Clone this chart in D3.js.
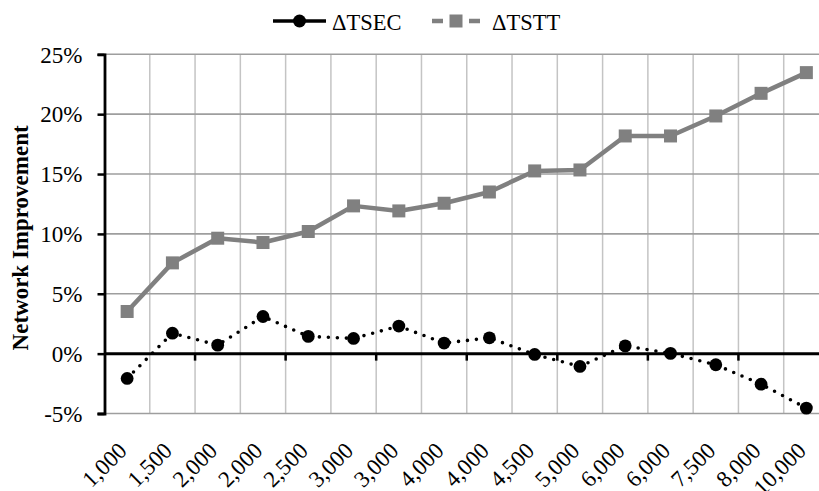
<!DOCTYPE html>
<html>
<head>
<meta charset="utf-8">
<script src="https://cdn.jsdelivr.net/npm/d3@7"></script>
<style>
  html, body { margin: 0; padding: 0; background: #fff; overflow: hidden; }
  svg { display: block; }
</style>
</head>
<body>
<svg id="chart" width="819" height="491"></svg>
<script>
// ---- data ----
const categories = ["1,000","1,500","2,000","2,000","2,500","3,000","3,000","4,000","4,000","4,500","5,000","6,000","6,000","7,500","8,000","10,000"];
const tsec = [-2.07, 1.71, 0.71, 3.10, 1.44, 1.27, 2.30, 0.88, 1.32, -0.07, -1.07, 0.65, 0.02, -0.93, -2.55, -4.55];
const tstt = [3.52, 7.58, 9.64, 9.28, 10.2, 12.34, 11.92, 12.56, 13.5, 15.26, 15.34, 18.18, 18.18, 19.85, 21.74, 23.47];
const yTicks = [-5, 0, 5, 10, 15, 20, 25];
const seriesNames = ["\u0394TSEC", "\u0394TSTT"];

const FONT = "'Liberation Serif', 'Times New Roman', serif";

// ---- layout ----
const svg = d3.select("#chart");
const pL = 104.5, pR = 829, pT = 54.3, pB = 413.5;

const x = d3.scaleBand().domain(d3.range(categories.length)).range([pL, pR]).padding(0);
const y = d3.scaleLinear().domain([-5, 25]).range([pB, pT]);
const cx = i => x(i) + x.bandwidth() / 2;
const bx = i => pL + i * x.bandwidth();

// gridlines
const grid = svg.append("g");
grid.selectAll("line.v").data(d3.range(1, categories.length + 1)).join("line")
  .attr("x1", i => bx(i)).attr("x2", i => bx(i))
  .attr("y1", pT).attr("y2", pB)
  .attr("stroke", "#c4c4c4").attr("stroke-width", 1.5);
grid.selectAll("line.h").data(yTicks.filter(t => t !== 0)).join("line")
  .attr("x1", pL).attr("x2", pR)
  .attr("y1", d => y(d)).attr("y2", d => y(d))
  .attr("stroke", "#9e9e9e").attr("stroke-width", 1.6);

// y axis
const yAxis = d3.axisLeft(y).tickValues(yTicks).tickFormat(d => d + "%").tickSize(7).tickPadding(15);
const yg = svg.append("g").attr("transform", `translate(${pL},0)`).call(yAxis);
yg.select(".domain").attr("stroke", "#000").attr("stroke-width", 2.8);
yg.selectAll(".tick line").attr("stroke", "#000").attr("stroke-width", 2.5);
yg.selectAll(".tick text")
  .style("font-family", FONT).style("font-size", "23px").attr("fill", "#000")
  .attr("dy", "0.34em");

// zero line with tick marks every two categories
svg.append("line").attr("x1", pL).attr("x2", pR).attr("y1", y(0)).attr("y2", y(0))
  .attr("stroke", "#000").attr("stroke-width", 3);
svg.selectAll("line.xt").data(d3.range(2, categories.length + 1, 2)).join("line")
  .attr("x1", i => bx(i)).attr("x2", i => bx(i))
  .attr("y1", y(0)).attr("y2", y(0) + 7)
  .attr("stroke", "#000").attr("stroke-width", 2.5);

// x labels
const xAxis = d3.axisBottom(x).tickFormat(i => categories[i]).tickSize(0);
const xg = svg.append("g").call(xAxis);
xg.select(".domain").remove();
xg.selectAll(".tick text")
  .style("font-family", FONT).style("font-size", "23px").attr("fill", "#000")
  .attr("y", 0).attr("dy", 0)
  .attr("text-anchor", "end")
  .attr("transform", "translate(1,452) rotate(-45)");

// y label
svg.append("text")
  .attr("transform", `translate(28,${(pT + pB) / 2 + 4}) rotate(-90)`)
  .attr("text-anchor", "middle")
  .style("font-family", FONT).style("font-size", "23px").style("font-weight", "bold")
  .text("Network Improvement");

// series: TSTT
const lineGen = d3.line().x((d, i) => cx(i)).y(d => y(d));
svg.append("path").datum(tstt).attr("d", lineGen)
  .attr("fill", "none").attr("stroke", "#808080").attr("stroke-width", 4.5).attr("stroke-linejoin", "round");
svg.selectAll("rect.m").data(tstt).join("rect")
  .attr("x", (d, i) => cx(i) - 6.5).attr("y", d => y(d) - 6.5)
  .attr("width", 13).attr("height", 13).attr("fill", "#808080");

// series: TSEC
svg.append("path").datum(tsec).attr("d", lineGen)
  .attr("fill", "none").attr("stroke", "#000").attr("stroke-width", 3.6)
  .attr("stroke-linecap", "round").attr("stroke-dasharray", "0,9");
svg.selectAll("circle.m").data(tsec).join("circle")
  .attr("cx", (d, i) => cx(i)).attr("cy", d => y(d)).attr("r", 6.4).attr("fill", "#000");

// legend
const lg = svg.append("g");
lg.append("line").attr("x1", 273).attr("x2", 326).attr("y1", 21).attr("y2", 21)
  .attr("stroke", "#000").attr("stroke-width", 3.5);
lg.append("circle").attr("cx", 299.5).attr("cy", 21).attr("r", 6.5).attr("fill", "#000");
lg.append("text").attr("x", 332).attr("y", 30)
  .style("font-family", FONT).style("font-size", "22.5px").text(seriesNames[0]);
lg.append("line").attr("x1", 432).attr("x2", 480).attr("y1", 21).attr("y2", 21)
  .attr("stroke", "#808080").attr("stroke-width", 4.5).attr("stroke-dasharray", "11,26");
lg.append("rect").attr("x", 449.5).attr("y", 14.5).attr("width", 13).attr("height", 13).attr("fill", "#808080");
lg.append("text").attr("x", 492).attr("y", 30)
  .style("font-family", FONT).style("font-size", "22.5px").text(seriesNames[1]);
</script>
</body>
</html>
